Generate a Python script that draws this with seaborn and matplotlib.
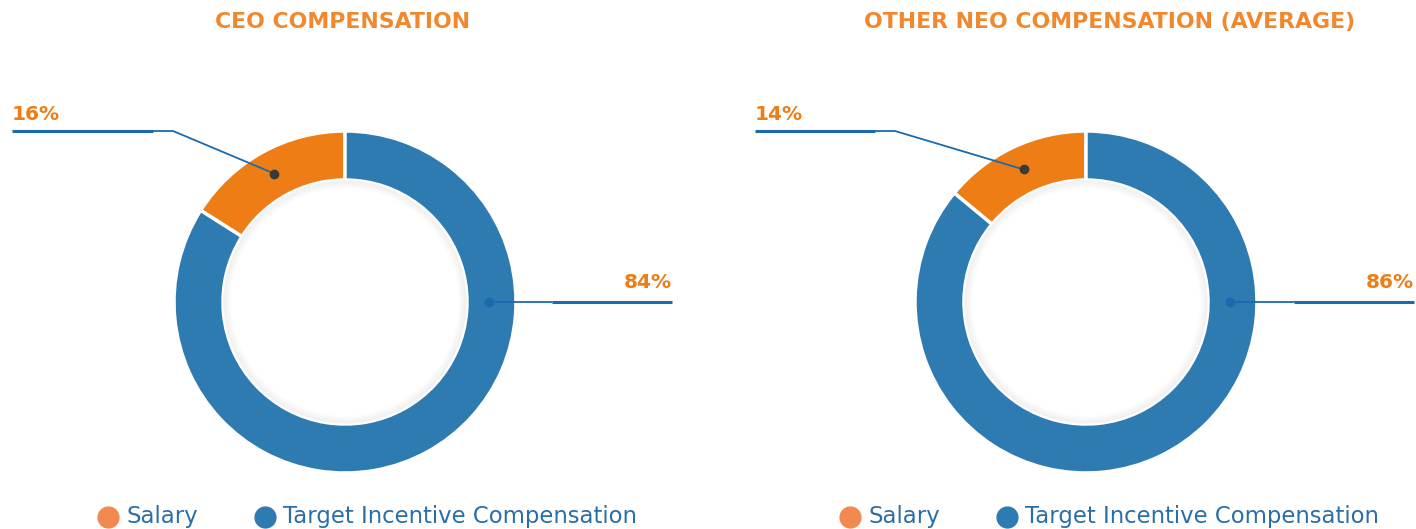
import matplotlib
matplotlib.use("Agg")
import matplotlib.pyplot as plt
from matplotlib.patches import Circle
import numpy as np
import seaborn as sns

# data
categories = ["Salary", "Target Incentive Compensation"]
ceo_values = [16, 84]
neo_values = [14, 86]
titles = ["CEO COMPENSATION", "OTHER NEO COMPENSATION (AVERAGE)"]

sns.set_theme(style="white")
plt.rcParams["font.family"] = ["DejaVu Sans"]

orange = "#EE7D16"
blue = "#2E7BB2"
title_orange = "#F2882E"
line_blue = "#1B6AAE"
palette = sns.color_palette([orange, blue])

W, H = 1416, 529
fig = plt.figure(figsize=(W / 100, H / 100), dpi=100)
ax = fig.add_axes([0, 0, 1, 1])

R, width = 171, 49


def donut(cx, cy, values, title, title_x, left_x, left_elbow, right_end, right_start, leg_x):
    cy = H - cy
    ax.pie(values, center=(cx, cy), radius=R, startangle=90, counterclock=True,
           colors=palette, wedgeprops=dict(width=width, edgecolor="white", linewidth=2.5),
           frame=True)
    # soft inner shadow
    r_in = R - width
    for i in range(8):
        ax.add_patch(Circle((cx, cy), r_in - 1 - i, fill=False, lw=1.2,
                            edgecolor="0.5", alpha=0.07 * (8 - i) / 8))
    # title
    ax.text(title_x, H - 22, title, ha="center", va="center", color=title_orange,
            fontsize=15.8, fontweight="bold")
    # small-slice label
    ang = np.deg2rad(90 + values[0] * 3.6 / 2)
    rm = R - width / 2
    dx, dy = cx + rm * np.cos(ang), cy + rm * np.sin(ang)
    ax.plot([left_x, left_elbow - 20], [H - 131, H - 131], color=line_blue, lw=2.2,
            solid_capstyle="butt")
    ax.plot([left_elbow - 20, left_elbow, dx], [H - 131, H - 131, dy], color=line_blue, lw=1.3)
    ax.plot([dx], [dy], "o", color="#3a3a3a", ms=6)
    ax.text(left_x, H - 115, f"{values[0]}%", ha="left", va="center", color=orange,
            fontsize=14.5, fontweight="bold")
    # big-slice label
    ax.plot([cx + rm - 3, right_start], [cy, cy], color=line_blue, lw=1.3)
    ax.plot([right_start, right_end], [cy, cy], color=line_blue, lw=2.2, solid_capstyle="butt")
    ax.plot([cx + rm - 3], [cy], "o", color=line_blue, ms=6)
    ax.text(right_end, H - 282, f"{values[1]}%", ha="right", va="center", color=orange,
            fontsize=14.5, fontweight="bold")
    # legend
    ax.plot([leg_x], [H - 517], "o", color="#F08A50", ms=15)
    ax.text(leg_x + 18, H - 517, categories[0], ha="left", va="center", color="#2A6EA8",
            fontsize=16.4)
    ax.plot([leg_x + 157], [H - 517], "o", color=blue, ms=15)
    ax.text(leg_x + 175, H - 517, categories[1], ha="left", va="center", color="#2A6EA8",
            fontsize=16.4)


donut(345, 302, ceo_values, titles[0], 343, 12, 173, 672, 552, 108)
donut(1086, 302, neo_values, titles[1], 1110, 755, 895, 1414, 1294, 850)

ax.set_xlim(0, W)
ax.set_ylim(0, H)
ax.set_aspect("equal")
ax.axis("off")
fig.savefig("out.png", dpi=100)
